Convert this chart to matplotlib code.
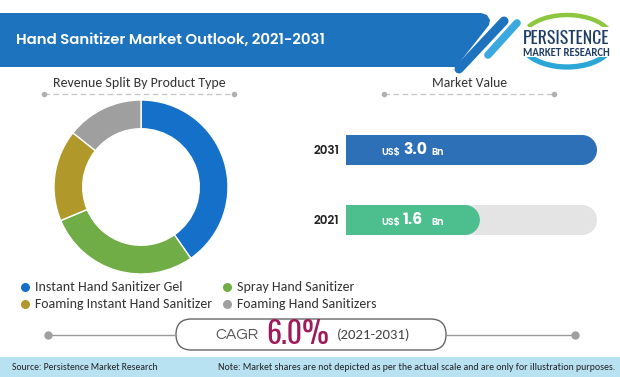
import matplotlib
matplotlib.use("Agg")
import matplotlib.pyplot as plt
from matplotlib import font_manager as fm
from matplotlib.patches import Polygon, FancyBboxPatch, Ellipse, Arc, Rectangle

# ---------------- data ----------------
title = "Hand Sanitizer Market Outlook, 2021-2031"
categories = ["Instant Hand Sanitizer Gel", "Spray Hand Sanitizer",
              "Foaming Instant Hand Sanitizer", "Foaming Hand Sanitizers"]
shares = [40.3, 28.4, 17.0, 14.3]
donut_colors = ["#1470c8", "#70ad47", "#b0992a", "#9f9f9f"]
years = ["2021", "2031"]
market_value = [1.6, 3.0]
bar_colors = ["#4dbf8e", "#2e70b8"]
cagr_value = 6.0
cagr_period = "(2021-2031)"
source_text = "Source: Persistence Market Research"
note_text = "Note: Market shares are not depicted as per the actual scale and are only for illustration purposes."

# ---------------- fonts ----------------
fonts = fm.fontManager.ttflist
avail = {f.name for f in fonts}
bold_avail = {f.name for f in fonts if (f.weight if isinstance(f.weight, int) else 400) >= 600
              or str(f.weight) in ("bold", "semibold", "demibold", "heavy", "black")}
def pick(*cands, need_bold=False):
    for c in cands:
        if c in avail and (not need_bold or c in bold_avail):
            return c
    return "DejaVu Sans"

BODY = pick("Carlito", "Lato", "Open Sans", "DejaVu Sans")
GOTHIC = pick("Poppins", "Montserrat", "Nunito Sans", "Raleway", "Lato", need_bold=True)
LIGHT = pick("Questrial", "Didact Gothic", "Lato", "DejaVu Sans")
COND = pick("Oswald", "Roboto Condensed", "Fjalla One", "Archivo Narrow", "PT Sans Narrow", "DejaVu Sans")

W, H = 620, 377
fig = plt.figure(figsize=(W / 100, H / 100), dpi=100)
fig.patch.set_facecolor("white")
renderer = fig.canvas.get_renderer()

ax0 = fig.add_axes([0, 0, 1, 1])
ax0.set_xlim(0, W)
ax0.set_ylim(H, 0)
ax0.axis("off")

TXT = "#333333"

def fit(t, width):
    for _ in range(3):
        bb = t.get_window_extent(renderer)
        if bb.width > 0:
            t.set_fontsize(t.get_fontsize() * width / bb.width)
    return t

def size_for(s, width, **kw):
    t = ax0.text(0, 0, s, fontsize=10, **kw)
    fit(t, width)
    fs = t.get_fontsize()
    t.remove()
    return fs

# ---- header banner ----
ax0.add_patch(Polygon([(0, 13), (481, 13), (487, 15), (490, 20), (489, 25), (456, 67), (0, 67)],
                      closed=True, facecolor="#1e73be", edgecolor="none"))
ax0.plot([504, 459], [21, 69], color="#1e73be", lw=6.5, solid_capstyle="round")
ax0.plot([517, 488], [23, 55], color="#3ba9e0", lw=5.5, solid_capstyle="round")
fit(ax0.text(16, 41, title, color="white", fontsize=11, fontweight="semibold",
             family=GOTHIC, va="center", ha="left"), 308)

# ---- logo ----
ax0.add_patch(Arc((567, 41), 92, 52, theta1=200, theta2=345, color="#8dc63f", lw=3.2))
ax0.add_patch(Arc((567, 41), 92, 52, theta1=15, theta2=165, color="#2aa7d6", lw=3.8))
ax0.add_patch(Rectangle((519, 27), 94, 30, facecolor="white", edgecolor="none"))
fit(ax0.text(566, 38, "PERSISTENCE", fontsize=16, family=COND, color="#1f3d66",
             ha="center", va="center"), 86)
fit(ax0.text(566, 52, "MARKET RESEARCH", fontsize=6, family=BODY, fontweight="bold",
             color="#1f3d66", ha="center", va="center"), 87)

# ---- section subtitles ----
def subtitle(x, y, s, width, x0, x1):
    fit(ax0.text(x, y, s, fontsize=10, family=BODY, color=TXT, ha="center", va="center"), width)
    ax0.plot([x0, x1], [94, 94], color="#c8c8c8", lw=1, ls=(0, (4, 2.5)))
    ax0.plot([x0, x1], [94, 94], "o", color="#b0b0b0", ms=4, mec="none")

subtitle(139, 83, "Revenue Split By Product Type", 172, 44, 234)
subtitle(469, 83, "Market Value", 75, 384, 554)

# ---- donut ----
cx, cy, R = 141, 187, 87
half = 92
axd = fig.add_axes([(cx - half) / W, (H - cy - half) / H, 2 * half / W, 2 * half / H])
axd.pie(shares, colors=donut_colors, startangle=90, counterclock=False, radius=1,
        wedgeprops=dict(width=0.33, edgecolor="white", linewidth=1))
lim = half / R
axd.set_xlim(-lim, lim)
axd.set_ylim(-lim, lim)
axd.set_aspect("equal")
axd.axis("off")

# ---- legend ----
leg_fs = size_for(categories[0], 147, family=BODY)
leg_pos = [(25, 287), (227, 287), (25, 304), (227, 304)]
for (lx, ly), lab, col in zip(leg_pos, categories, donut_colors):
    ax0.plot(lx, ly, "o", color=col, ms=6.5, mec="none")
    ax0.text(lx + 10, ly, lab, fontsize=leg_fs, family=BODY, color=TXT, ha="left", va="center")

# ---- market value bars ----
bx0, bx1 = 346, 597
by_top, by_bot = 115, 255
axb = fig.add_axes([bx0 / W, (H - by_bot) / H, (bx1 - bx0) / W, (by_bot - by_top) / H])
vmax = max(market_value)
axb.set_xlim(0, vmax)
axb.set_ylim(-0.5, 1.5)
pxx = (bx1 - bx0) / vmax
pxy = (by_bot - by_top) / 2.0
bh = 30 / pxy
rx = 15 / pxx
ypos = list(range(len(years)))
for y in ypos:
    axb.barh(y, vmax - rx, height=bh, color="#e4e4e4", zorder=1)
    axb.add_patch(Ellipse((vmax - rx, y), 2 * rx, bh, color="#e4e4e4", zorder=1, lw=0))
axb.barh(ypos, [v - rx for v in market_value], height=bh, color=bar_colors, zorder=2)
for y, v, c in zip(ypos, market_value, bar_colors):
    axb.add_patch(Ellipse((v - rx, y), 2 * rx, bh, color=c, zorder=2, lw=0))
year_fs = size_for("2031", 26, family=GOTHIC, fontweight="semibold")
axb.set_yticks(ypos)
axb.set_yticklabels(years, fontsize=year_fs, color="#222222", family=GOTHIC, fontweight="semibold")
axb.tick_params(axis="y", length=0, pad=5)
axb.set_xticks([])
for s in axb.spines.values():
    s.set_visible(False)
axb.patch.set_alpha(0)

small_fs = size_for("US$", 19, family=GOTHIC, fontweight="semibold")
big_fs = size_for("3.0", 24, family=GOTHIC, fontweight="bold")
for y, v in zip(ypos, market_value):
    for px, s, fs, fw in [(381, "US$", small_fs, "semibold"), (403, f"{v:.1f}", big_fs, "bold"),
                          (431, "Bn", small_fs, "semibold")]:
        axb.text((px - bx0) / pxx, y - (0.03 if fs == small_fs else 0.0), s, fontsize=fs,
                 fontweight=fw, color="white", family=GOTHIC, ha="left", va="center", zorder=5)

# ---- CAGR ----
ax0.plot([48, 176], [335, 335], color="#999999", lw=1)
ax0.plot([446, 575], [335, 335], color="#999999", lw=1)
ax0.plot([48, 575], [335, 335], "o", color="#a0a0a0", ms=6, mec="none")
ax0.add_patch(FancyBboxPatch((176, 319), 270, 31, boxstyle="round,pad=0,rounding_size=15.5",
                             facecolor="white", edgecolor="#666666", lw=1))
fit(ax0.text(215, 335, "CAGR", fontsize=12, family=LIGHT, color="#555555",
             ha="left", va="center"), 43)
fit(ax0.text(266, 334, f"{cagr_value:.1f}%", fontsize=20, fontweight="bold", family=COND,
             color="#9f1a5a", ha="left", va="center"), 63)
fit(ax0.text(337, 335, cagr_period, fontsize=11, family=BODY, color="#444444",
             ha="left", va="center"), 74)

# ---- footer ----
ax0.add_patch(Rectangle((0, 357), W, 20, facecolor="#b8e2f1", edgecolor="none"))
fit(ax0.text(12, 367.5, source_text, fontsize=7.3, family=BODY, color="#222222",
             ha="left", va="center"), 147)
fit(ax0.text(615, 367.5, note_text, fontsize=7.3, family=BODY, color="#222222",
             ha="right", va="center"), 397)

fig.savefig("out.png", dpi=100, facecolor="white")
